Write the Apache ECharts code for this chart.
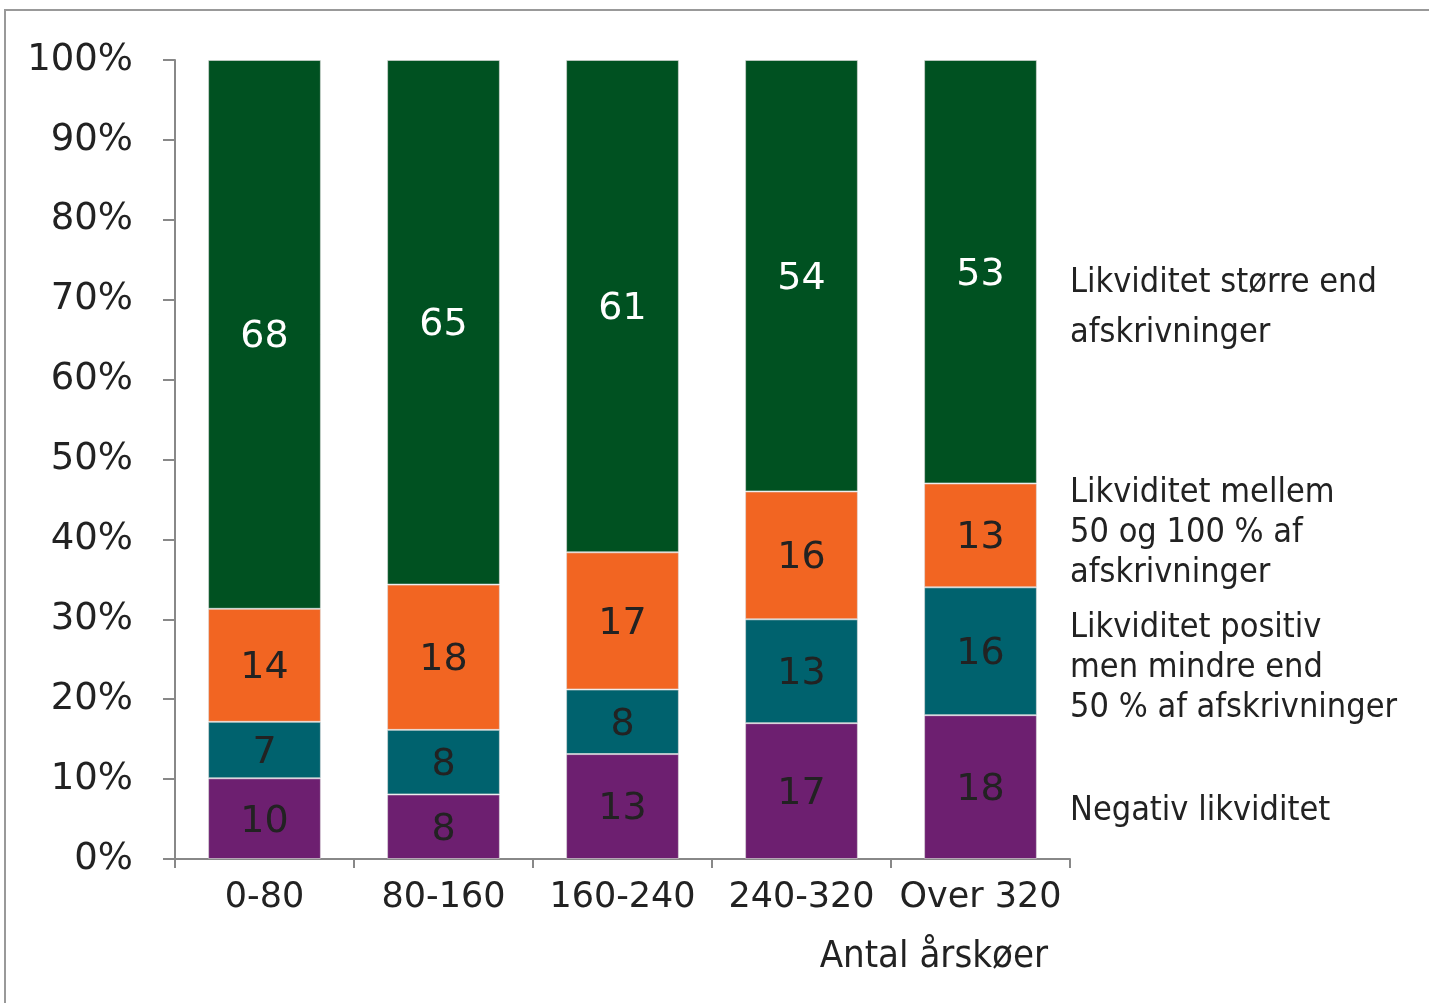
<!DOCTYPE html>
<html><head><meta charset="utf-8">
<script src="https://cdn.jsdelivr.net/npm/echarts@6/dist/echarts.min.js"></script>
<style>html,body{margin:0;padding:0;background:#fff}#c{width:1429px;height:1003px}</style>
</head><body><div id="c"></div>
<script>
var categories = ['0-80', '80-160', '160-240', '240-320', 'Over 320'];
var seriesNames = [
  'Negativ likviditet',
  'Likviditet positiv\nmen mindre end\n50 % af afskrivninger',
  'Likviditet mellem\n50 og 100 % af\nafskrivninger',
  'Likviditet større end\nafskrivninger'
];
var negativ = [10, 8, 13, 17, 18];
var positivMindre = [7, 8, 8, 13, 16];
var mellem = [14, 18, 17, 16, 13];
var stoerre = [68, 65, 61, 54, 53];
var yTickLabels = ['0%', '10%', '20%', '30%', '40%', '50%', '60%', '70%', '80%', '90%', '100%'];
var xAxisTitle = 'Antal årskøer';

var raw = [negativ, positivMindre, mellem, stoerre];
var totals = categories.map(function (_, i) { return raw.reduce(function (s, a) { return s + a[i]; }, 0); });
var colors = ['#6D1F70', '#00626E', '#F26522', '#005121'];
var labelColors = ['#222', '#222', '#222', '#fff'];
var font = '"DejaVu Sans", sans-serif';
var legendFont = '"Liberation Sans Narrow", "DejaVu Sans Condensed", sans-serif';

var series = raw.map(function (arr, k) {
  return {
    name: seriesNames[k], type: 'bar', stack: 'a', barWidth: '63%',
    data: arr.map(function (v, i) { return { value: v / totals[i] * 100, raw: v }; }),
    itemStyle: { color: colors[k], borderColor: 'rgba(220,220,220,0.6)', borderWidth: 1 },
    label: { show: true, position: 'inside', color: labelColors[k], fontFamily: font, fontSize: 38,
      offset: [0, 3],
      formatter: function (p) { return p.data.raw; } }
  };
});

var legendY = [811, 668, 533, 308];
var graphics = [{ type: 'rect', shape: { x: 5, y: 10, width: 1440, height: 1010 }, style: { fill: 'none', stroke: '#999', lineWidth: 2 }, silent: true }];
seriesNames.forEach(function (n, k) {
  var lines = n.split('\n').length;
  var lh = k === 3 ? 50 : 40;
  graphics.push({ type: 'text', left: 1070, top: legendY[k] - lines * lh / 2,
    style: { text: n, font: '34px ' + legendFont, fill: '#222', lineHeight: lh } });
});
graphics.push({ type: 'text', right: 1429 - 1048, top: 938, style: { text: xAxisTitle, font: '38px ' + legendFont, fill: '#222' } });

var chart = echarts.init(document.getElementById('c'));
chart.setOption({
  animation: false,
  grid: { left: 175, right: 359, top: 60, bottom: 144 },
  xAxis: { type: 'category', data: categories,
    axisLine: { lineStyle: { color: '#888', width: 2 } },
    axisTick: { show: true, length: 9, lineStyle: { color: '#888', width: 2 } },
    axisLabel: { interval: 0, color: '#222', fontSize: 35, fontFamily: font, margin: 21 } },
  yAxis: { type: 'value', min: 0, max: 100, interval: 10,
    axisLine: { show: true, lineStyle: { color: '#888', width: 2 } },
    axisTick: { show: true, length: 12, inside: false, lineStyle: { color: '#888', width: 2 } },
    splitLine: { show: false },
    axisLabel: { color: '#222', fontSize: 37, fontFamily: font, margin: 42,
      formatter: function (v) { return yTickLabels[Math.round(v / 10)]; } } },
  series: series,
  graphic: graphics
});
</script></body></html>
